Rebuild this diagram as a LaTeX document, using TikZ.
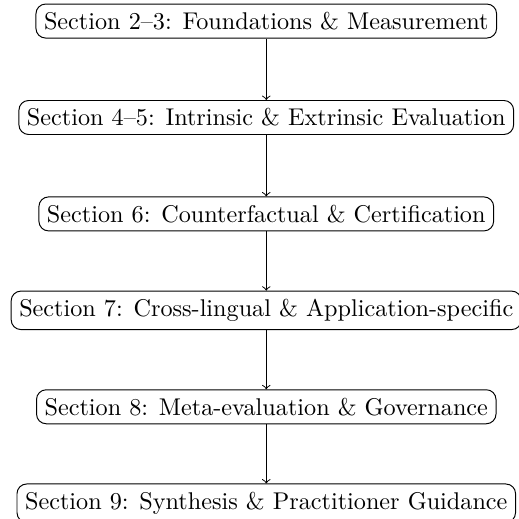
\documentclass[tikz,border=0pt]{standalone}
\begin{document}
\begin{tikzpicture}[
  secbox/.style={draw, rounded corners},
  flow/.style={->}
]
\useasboundingbox (-110pt,8.7pt) rectangle (104pt,-205.7pt);
\node[secbox] (s1) at (0,0)     {Section 2--3: Foundations \& Measurement};
\node[secbox] (s2) at (0,-1.4)  {Section 4--5: Intrinsic \& Extrinsic Evaluation};
\node[secbox] (s3) at (0,-2.8)  {Section 6: Counterfactual \& Certification};
\node[secbox] (s4) at (0,-4.2)  {Section 7: Cross-lingual \& Application-specific};
\node[secbox] (s5) at (0,-5.6)  {Section 8: Meta-evaluation \& Governance};
\node[secbox] (s6) at (0,-7.0)  {Section 9: Synthesis \& Practitioner Guidance};
\draw[flow] (s1) -- (s2);
\draw[flow] (s2) -- (s3);
\draw[flow] (s3) -- (s4);
\draw[flow] (s4) -- (s5);
\draw[flow] (s5) -- (s6);
\end{tikzpicture}
\end{document}
